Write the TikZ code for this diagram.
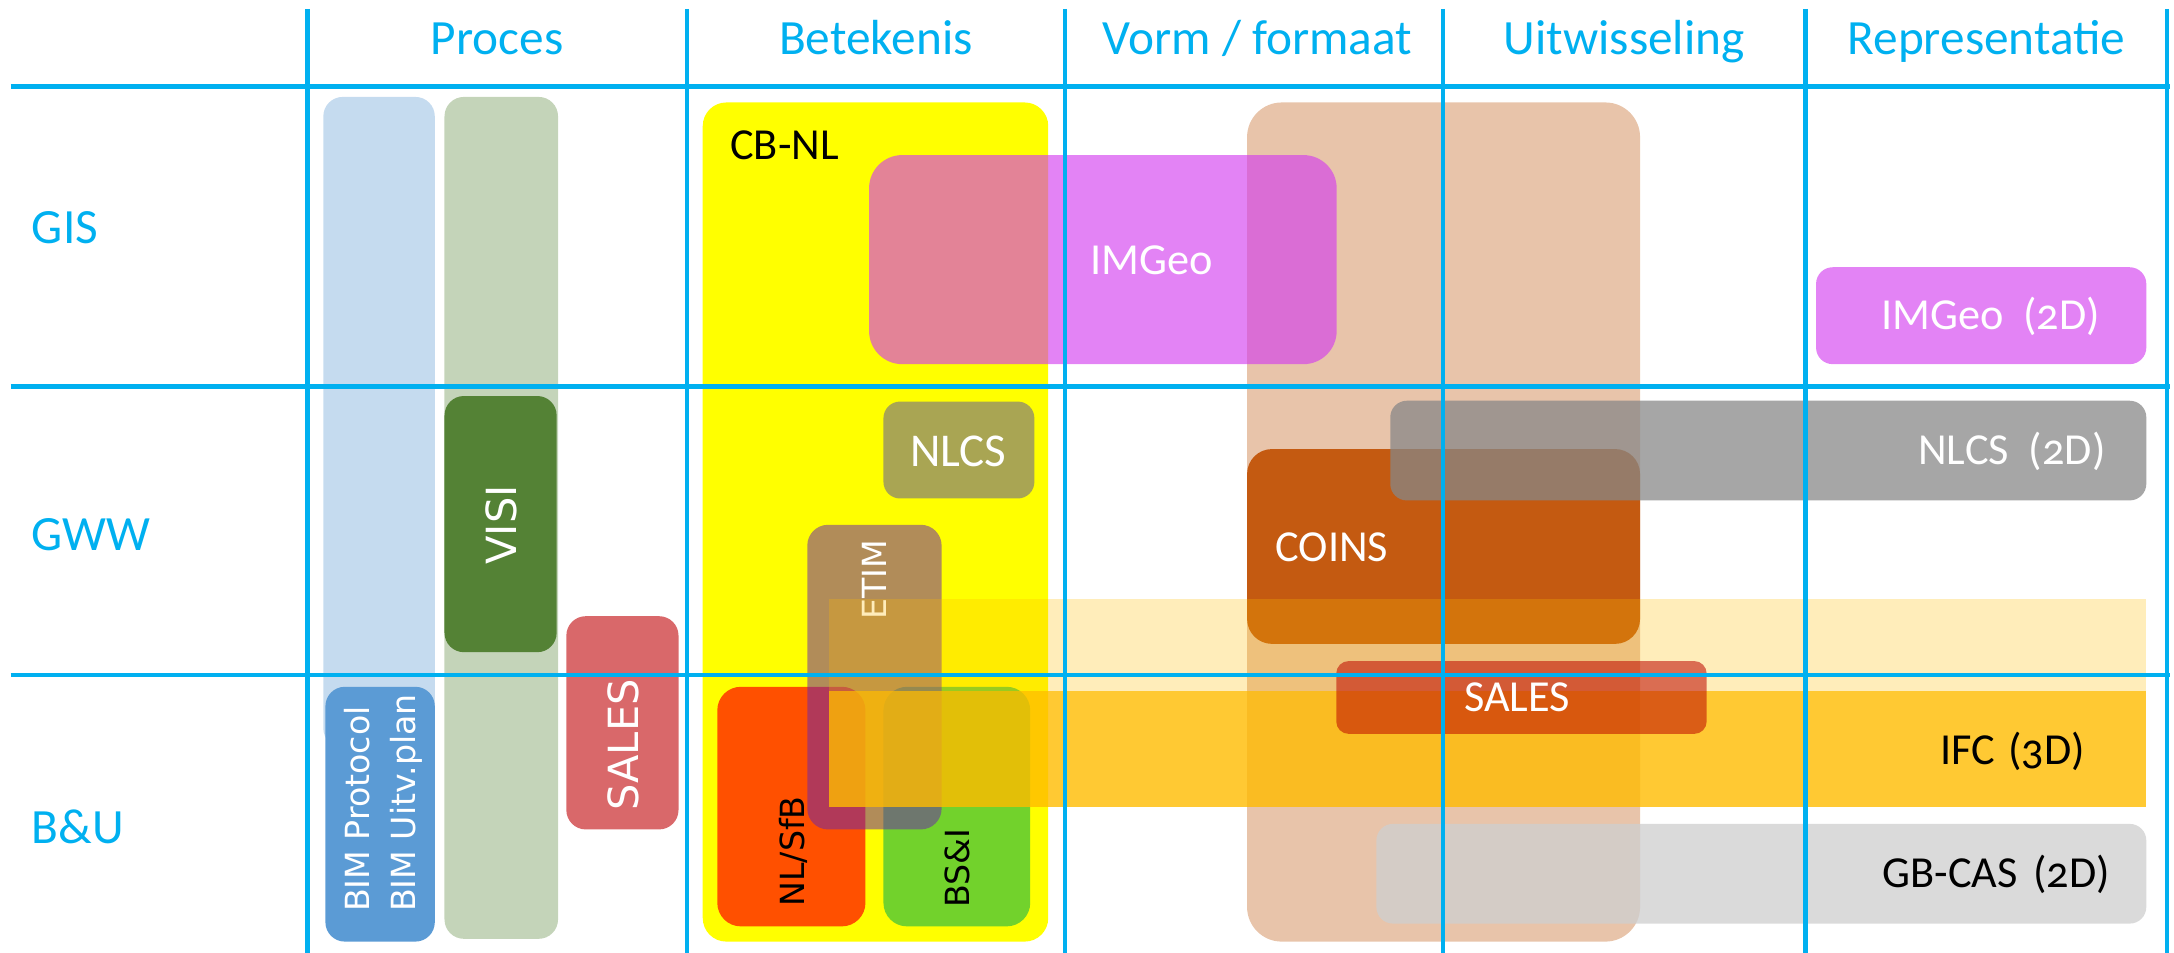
\documentclass[tikz,border=0pt]{standalone}
\usepackage{fontspec}
\setmainfont{Carlito}[Numbers=OldStyle]
\newfontfamily\vfont{DejaVu Sans}
\definecolor{gridblue}{RGB}{0,176,240}
\definecolor{lblue}{RGB}{197,219,239}
\definecolor{lgreen}{RGB}{196,212,185}
\definecolor{visigreen}{RGB}{84,130,53}
\definecolor{salesred}{RGB}{217,104,106}
\definecolor{bimblue}{RGB}{91,155,213}
\definecolor{cbyellow}{RGB}{255,255,0}
\definecolor{imgeocol}{RGB}{211,60,239}
\definecolor{nlcsolive}{RGB}{169,165,83}
\definecolor{etimcol}{RGB}{107,38,170}
\definecolor{nlsfbcol}{RGB}{255,80,0}
\definecolor{bsicol}{RGB}{114,210,44}
\definecolor{tancol}{RGB}{232,196,170}
\definecolor{coinscol}{RGB}{196,90,17}
\definecolor{greycol}{RGB}{135,135,135}
\definecolor{gbcascol}{RGB}{207,207,207}
\definecolor{bandcol}{RGB}{255,187,0}
\definecolor{salesx}{RGB}{190,10,0}
\tikzset{
  hdr/.style={text=gridblue, font=\fontsize{17.8}{20}\selectfont, inner sep=0pt, anchor=base},
  rowlab/.style={text=gridblue, font=\fontsize{17.8}{20}\selectfont, inner sep=0pt, anchor=base west},
  lab/.style={inner sep=0pt, font=\fontsize{16}{18}\selectfont},
  vlab/.style={inner sep=0pt, rotate=90, font=\vfont\fontsize{12}{14}\selectfont, anchor=base west},
  bigvlab/.style={inner sep=0pt, rotate=90, font=\vfont\fontsize{15}{17}\selectfont, anchor=center, text=white},
  gridline/.style={draw=gridblue, line width=1.6pt},
}
\newcommand\rbox[6]{\fill[#5, rounded corners=#6] (#1,#2) rectangle (#3,#4);}
\begin{document}
\begin{tikzpicture}[x=0.5pt,y=-0.5pt]
\useasboundingbox (0,0) rectangle (1570,688);
% Proces column
\rbox{233.5}{70}{314}{540}{lblue}{7pt}
\rbox{321}{70}{403}{678}{lgreen}{7pt}
\rbox{321}{286}{402}{471}{visigreen}{7pt}
\rbox{409}{445}{490}{599}{salesred}{7pt}
\rbox{235}{496}{314}{680}{bimblue}{7pt}
\node[bigvlab] (visi) at (362,379) {VISI};
\node[bigvlab] (salesp) at (450,538) {SALES};
\node[vlab, text=white] (bimp) at (267,659) {BIM Protocol};
\node[vlab, text=white] (bimu) at (300,659) {BIM Uitv.plan};
% Betekenis column
\rbox{507.5}{74}{757}{680}{cbyellow}{8.5pt}
\node[lab, anchor=base west] (cbnl) at (527,115) {CB-NL};
\rbox{638}{290}{747}{360}{nlcsolive}{6pt}
\node[lab, anchor=center, text=white, font=\fontsize{17}{19}\selectfont] (nlcs) at (692,326) {NLCS};
\rbox{518}{496}{625}{669}{nlsfbcol}{8.5pt}
\rbox{638}{496}{744}{669}{bsicol}{8.5pt}
\node[vlab] (nlsfb) at (581,655) {NL/SfB};
\node[vlab] (bsi) at (700,656) {BS\&I};
\rbox{583}{379}{680}{599}{etimcol, fill opacity=0.525}{7.5pt}
\node[vlab, text=white] (etim) at (640.5,448) {ETIM};
% Vorm / Uitwisseling
\rbox{900.6}{74}{1184.4}{680}{tancol}{12.5pt}
\rbox{627.6}{112}{965.3}{263}{imgeocol, fill opacity=0.635}{12pt}
\node[lab, anchor=base west, text=white] (imgeo) at (787,198) {IMGeo};
\rbox{1311.5}{193}{1550}{263}{imgeocol, fill opacity=0.635}{6pt}
\node[lab, anchor=base east, text=white] (imgeo2d) at (1517,238.3) {IMGeo\hspace{0.45em}(2D)};
\rbox{900.6}{324.3}{1184.4}{465}{coinscol}{9pt}
\node[lab, anchor=base west, text=white] (coins) at (920.8,405.8) {COINS};
\rbox{1004}{289.4}{1550}{361.4}{greycol, fill opacity=0.74}{6pt}
\node[lab, anchor=base east, text=white] (nlcs2d) at (1521,335.8) {NLCS\hspace{0.45em}(2D)};
\rbox{994}{595}{1550}{667}{gbcascol, fill opacity=0.78}{6pt}
\node[lab, anchor=base east] (gbcas) at (1524,641) {GB-CAS\hspace{0.35em}(2D)};
% IFC band
\fill[bandcol, fill opacity=0.27] (598.7,432.6) rectangle (1550,499);
\fill[bandcol, fill opacity=0.8] (598.7,499) rectangle (1550,582.6);
\node[lab, anchor=base east] (ifc) at (1506,552) {IFC\hspace{0.3em}(3D)};
\rbox{965}{477.4}{1232.5}{530}{salesx, fill opacity=0.56}{4.5pt}
\node[lab, anchor=base west, text=white] (salesx) at (1057,514) {SALES};
% grid
\foreach \yy in {62.6,279,487.5} \draw[gridline] (7.7,\yy) -- (1567,\yy);
\foreach \xx in {222,496,769,1042,1304,1565} \draw[gridline] (\xx,6.5) -- (\xx,688);
% headers
\node[hdr] (h1) at (359,39.7) {Proces};
\node[hdr] (h2) at (632.5,39.7) {Betekenis};
\node[hdr] (h3) at (908,39.7) {Vorm / formaat};
\node[hdr] (h4) at (1173,39.7) {Uitwisseling};
\node[hdr] (h5) at (1434.5,39.7) {Representatie};
\node[rowlab] (r1) at (22.7,175.7) {GIS};
\node[rowlab] (r2) at (22.7,397.5) {GWW};
\node[rowlab] (r3) at (22.7,609.5) {B\&U};
\end{tikzpicture}
\end{document}
